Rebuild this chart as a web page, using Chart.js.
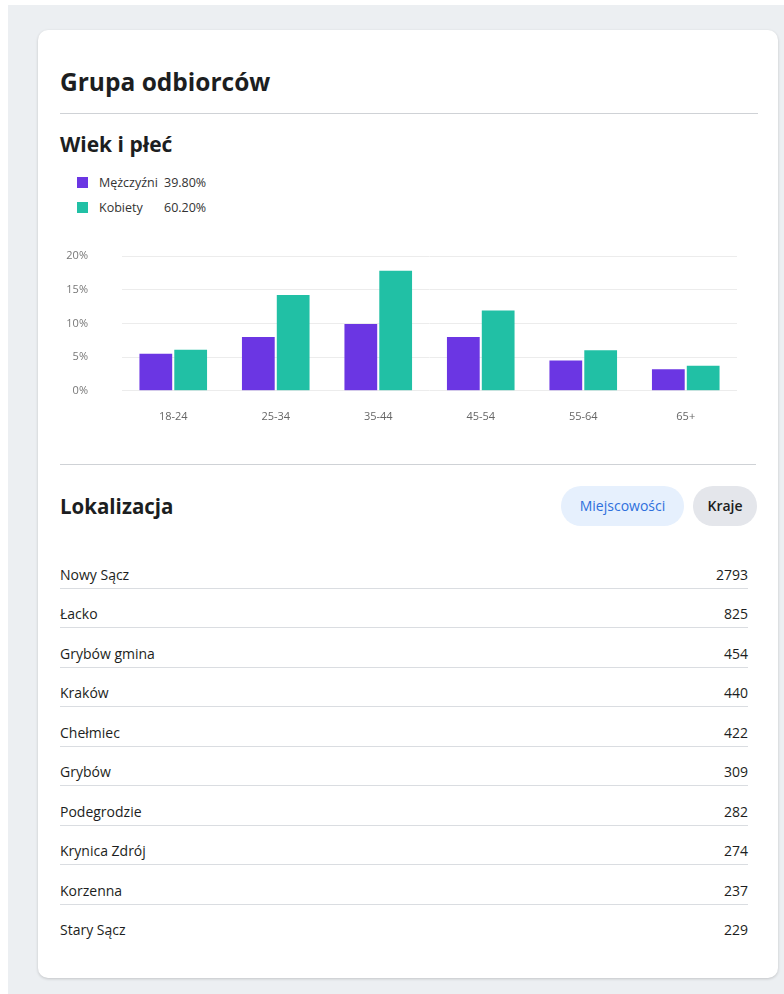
<!DOCTYPE html>
<html lang="pl">
<head>
<meta charset="utf-8">
<script src="https://cdn.jsdelivr.net/npm/chart.js@4.4.1/dist/chart.umd.min.js"></script>
<style>
    html, body { margin: 0; padding: 0; background: #fff; }
    body { width: 784px; height: 994px; position: relative; overflow: hidden; font-family: "Open Sans", "Noto Sans", sans-serif; color: #1c1e21; }
    .bg { position: absolute; left: 8px; top: 5px; right: 0; bottom: 0; background: #eceff2; }
    .card { position: absolute; left: 38px; top: 30px; width: 740px; height: 948px; background: #fff; border-radius: 10px; box-shadow: 0 1px 3px rgba(0,0,0,0.18); }
    .abs { position: absolute; white-space: nowrap; }
    .h1 { left: 60px; top: 66px; font-size: 24.5px; font-weight: 700; line-height: 32px; }
    .h2 { font-size: 21px; font-weight: 700; line-height: 26px; }
    .rule { position: absolute; left: 60px; width: 698px; height: 1px; background: #cfd2d6; }
    .legend-row { position: absolute; left: 77px; font-size: 12.5px; line-height: 18px; color: #333; }
    .legend-row .sw { display: inline-block; width: 11px; height: 11px; margin-right: 11px; vertical-align: -1px; }
    .legend-row .pct { position: absolute; left: 87px; top: 0; }
    #chartBox { position: absolute; left: 60px; top: 240px; width: 700px; height: 220px; }
    .pill { position: absolute; top: 486px; height: 40px; line-height: 40px; border-radius: 20px; font-size: 14px; text-align: center; }
    .row { position: absolute; left: 60px; width: 688px; height: 26px; line-height: 26px; font-size: 14px; border-bottom: 1px solid #dadde1; }
    .row .val { position: absolute; right: 0; top: 0; }
</style>
</head>
<body>
<div class="bg"></div>
<div class="card"></div>

<div class="abs h1">Grupa odbiorców</div>
<div class="rule" style="top:113px"></div>
<div class="abs h2" style="left:60px; top:131px">Wiek i płeć</div>
<div id="legend"></div>
<div id="chartBox"><canvas id="ageChart"></canvas></div>

<div class="rule" style="top:464px; width:696px"></div>
<div class="abs h2" style="left:60px; top:493px; font-size:20.5px">Lokalizacja</div>
<div class="pill" style="left:561px; width:123px; background:#e6f0fd; color:#2e6fdc">Miejscowości</div>
<div class="pill" style="left:693px; width:64px; background:#e4e6eb; color:#1c1e21; font-weight:600">Kraje</div>
<div id="places"></div>

<script>
// dane wykresu
const ageGroups = ['18-24', '25-34', '35-44', '45-54', '55-64', '65+'];
const seriesNames = ['Mężczyźni', 'Kobiety'];
const seriesTotals = ['39.80%', '60.20%'];
const menData = [5.5, 8.0, 9.9, 8.0, 4.5, 3.2];
const womenData = [6.1, 14.2, 17.8, 11.9, 6.0, 3.7];
const yTicks = [0, 5, 10, 15, 20];
const seriesColors = ['#6b36e3', '#21c0a5'];

// lokalizacje
const placeNames = ['Nowy Sącz', 'Łacko', 'Grybów gmina', 'Kraków', 'Chełmiec', 'Grybów', 'Podegrodzie', 'Krynica Zdrój', 'Korzenna', 'Stary Sącz'];
const placeCounts = [2793, 825, 454, 440, 422, 309, 282, 274, 237, 229];

document.addEventListener('DOMContentLoaded', function() {
    buildLegend();
    buildPlaces();
    initAgeChart();
});

function buildLegend() {
    const box = document.getElementById('legend');
    seriesNames.forEach((name, i) => {
        const row = document.createElement('div');
        row.className = 'legend-row';
        row.style.top = (174 + i * 25) + 'px';
        row.innerHTML = '<span class="sw" style="background:' + seriesColors[i] + '"></span>' + name +
            '<span class="pct">' + seriesTotals[i] + '</span>';
        box.appendChild(row);
    });
}

function buildPlaces() {
    const box = document.getElementById('places');
    placeNames.forEach((name, i) => {
        const row = document.createElement('div');
        row.className = 'row';
        row.style.top = (562 + i * 39.44) + 'px';
        if (i === placeNames.length - 1) row.style.borderBottom = 'none';
        row.innerHTML = name + '<span class="val">' + placeCounts[i] + '</span>';
        box.appendChild(row);
    });
}

function initAgeChart() {
    const ctx = document.getElementById('ageChart').getContext('2d');
    window.ageChart = new Chart(ctx, {
        type: 'bar',
        data: {
            labels: ageGroups,
            datasets: [
                { label: seriesNames[0], data: menData, backgroundColor: seriesColors[0] },
                { label: seriesNames[1], data: womenData, backgroundColor: seriesColors[1] }
            ]
        },
        options: {
            responsive: true,
            maintainAspectRatio: false,
            animation: false,
            categoryPercentage: 0.68,
            barPercentage: 0.94,
            layout: { padding: { top: 16, right: 23, bottom: 18, left: 0 } },
            plugins: {
                legend: { display: false },
                tooltip: { enabled: false }
            },
            scales: {
                y: {
                    min: 0,
                    max: 20,
                    afterBuildTicks: (s) => { s.ticks = yTicks.map(v => ({ value: v })); },
                    afterFit: (s) => {
                        // szeroka oś, ale bez dodatkowego odstępu u góry/dołu
                        s.width = 62;
                        s.paddingTop = 6;
                        s.paddingBottom = 6;
                    },
                    border: { display: false },
                    grid: { color: '#ececec', drawTicks: false },
                    ticks: {
                        padding: 34,
                        color: '#777',
                        font: { family: 'Open Sans', size: 11 },
                        callback: v => v + '%'
                    }
                },
                x: {
                    border: { display: false },
                    grid: { display: false, drawTicks: false },
                    ticks: {
                        padding: 19,
                        color: '#666',
                        font: { family: 'Open Sans', size: 11 }
                    }
                }
            }
        }
    });
}
</script>
</body>
</html>
